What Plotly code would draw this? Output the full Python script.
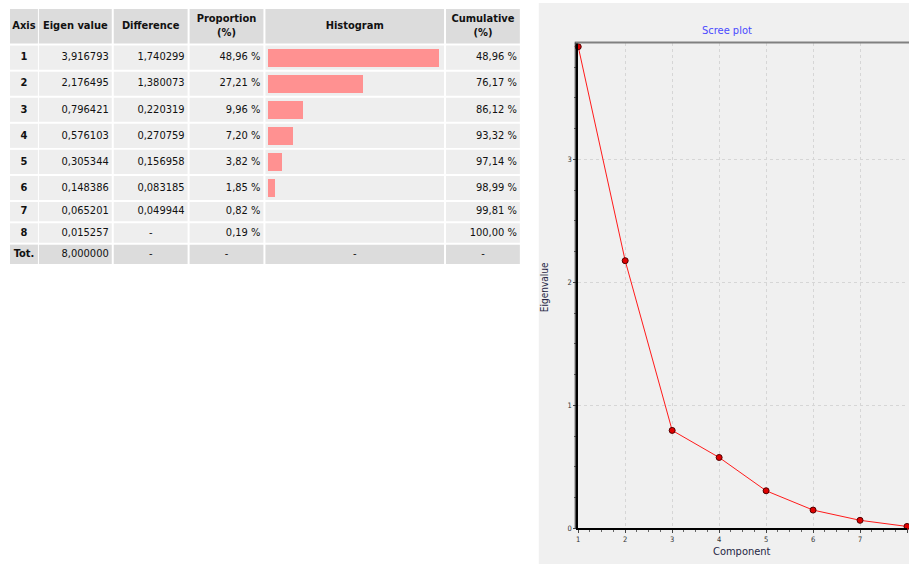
import plotly.graph_objects as go

# ---------------- data ----------------
axis_labels = ["1", "2", "3", "4", "5", "6", "7", "8"]
total_label = "Tot."
eigenvalues = [3.916793, 2.176495, 0.796421, 0.576103, 0.305344, 0.148386, 0.065201, 0.015257]
eigen_total = 8.000000
differences = [1.740299, 1.380073, 0.220319, 0.270759, 0.156958, 0.083185, 0.049944, None]
proportions = [48.96, 27.21, 9.96, 7.20, 3.82, 1.85, 0.82, 0.19]
cumulative = [48.96, 76.17, 86.12, 93.32, 97.14, 98.99, 99.81, 100.00]
components = [1, 2, 3, 4, 5, 6, 7, 8]
headers = ["Axis", "Eigen value", "Difference", "Proportion<br>(%)", "Histogram", "Cumulative<br>(%)"]
y_ticks = [0, 1, 2, 3]

# ---------------- layout constants ----------------
W, H = 909, 569
FONT = "DejaVu Sans Condensed, Liberation Sans, sans-serif"
col_left = [8, 37, 112, 188, 264, 445]
col_width = [28, 73, 74, 74, 179, 74]
header_top, header_h, gap = 9, 35, 2
bar_row_h, plain_row_h = 24.3, 19.5
HEAD_BG, ROW_BG = "#dcdcdc", "#eeeeee"
BAR_COLOR = "#ff9191"
px_per_pct = 3.49
TABLE_X = (0, 530)
TABLE_Y = (0, 280)


def px(xp):
    return xp / W


def py(yp):
    return 1 - yp / H


def fmt(v, d):
    return f"{v:.{d}f}".replace(".", ",")


# row geometry derived from whether a bar is displayed (prop >= 1 %)
has_bar = [p >= 1 for p in proportions] + [False]
row_tops, row_hs = [], []
y = header_top + header_h + gap
for hb in has_bar:
    h = bar_row_h if hb else plain_row_h
    row_tops.append(y)
    row_hs.append(h)
    y += h + gap
row_centers = [t + h / 2 for t, h in zip(row_tops, row_hs)]

shapes = []
for cl, cw in zip(col_left, col_width):
    shapes.append(dict(type="rect", xref="x2", yref="y2", x0=cl, x1=cl + cw,
                       y0=header_top, y1=header_top + header_h,
                       fillcolor=HEAD_BG, line_width=0, layer="below"))
n_rows = len(row_tops)
for i, (t, h) in enumerate(zip(row_tops, row_hs)):
    bg = HEAD_BG if i == n_rows - 1 else ROW_BG
    for cl, cw in zip(col_left, col_width):
        shapes.append(dict(type="rect", xref="x2", yref="y2", x0=cl, x1=cl + cw,
                           y0=t, y1=t + h, fillcolor=bg, line_width=0, layer="below"))

# scree panel background
shapes.append(dict(type="rect", xref="paper", yref="paper", x0=px(538), x1=1,
                   y0=0, y1=py(3), fillcolor="#f0f0f0", line_width=0, layer="below"))

fig = go.Figure()
txt_font = dict(family=FONT, size=11, color="#111111")


def text_trace(xs, ys, texts, pos):
    fig.add_trace(go.Scatter(x=xs, y=ys, text=texts, mode="text", textposition=pos,
                             textfont=txt_font, xaxis="x2", yaxis="y2",
                             hoverinfo="skip", showlegend=False, cliponaxis=False))


hc = [cl + cw / 2 for cl, cw in zip(col_left, col_width)]
text_trace(hc, [header_top + header_h / 2] * len(headers), [f"<b>{h}</b>" for h in headers], "middle center")
text_trace([hc[0]] * n_rows, row_centers, [f"<b>{a}</b>" for a in axis_labels + [total_label]], "middle center")


def right(ci):
    return col_left[ci] + col_width[ci] - 3


ev_txt = [fmt(v, 6) for v in eigenvalues] + [fmt(eigen_total, 6)]
text_trace([right(1)] * n_rows, row_centers, ev_txt, "middle left")

diff_num = [(fmt(d, 6), rc) for d, rc in zip(differences, row_centers) if d is not None]
text_trace([right(2)] * len(diff_num), [r for _, r in diff_num], [t for t, _ in diff_num], "middle left")
diff_dash = [rc for d, rc in zip(differences, row_centers) if d is None] + [row_centers[-1]]
text_trace([hc[2]] * len(diff_dash), diff_dash, ["-"] * len(diff_dash), "middle center")

text_trace([right(3)] * len(proportions), row_centers[:len(proportions)],
           [fmt(p, 2) + " %" for p in proportions], "middle left")
text_trace([right(5)] * len(cumulative), row_centers[:len(cumulative)],
           [fmt(c, 2) + " %" for c in cumulative], "middle left")
text_trace([hc[3], hc[4], hc[5]], [row_centers[-1]] * 3, ["-", "-", "-"], "middle center")

bar_idx = [i for i, p in enumerate(proportions) if p >= 1]
fig.add_trace(go.Bar(orientation="h", xaxis="x2", yaxis="y2",
                     x=[proportions[i] * px_per_pct for i in bar_idx],
                     y=[row_centers[i] for i in bar_idx],
                     base=col_left[4] + 3, width=18,
                     marker=dict(color=BAR_COLOR, line_width=0),
                     hoverinfo="skip", showlegend=False))

# scree plot
fig.add_trace(go.Scatter(x=components, y=eigenvalues, mode="lines+markers",
                         line=dict(color="#ff1a1a", width=1),
                         marker=dict(size=6, color="#e00000", line=dict(color="#500000", width=1)),
                         cliponaxis=False, showlegend=False, xaxis="x", yaxis="y"))

x0p, x1p = px(577.5), px(907)
y0p, y1p = py(533), py(43)
# top frame line and inner left double line
shapes.append(dict(type="line", xref="paper", yref="paper", x0=px(574), x1=1, y0=y1p, y1=y1p,
                   line=dict(color="#808080", width=2)))
shapes.append(dict(type="line", xref="paper", yref="paper", x0=px(574.5), x1=px(574.5),
                   y0=y0p, y1=y1p, line=dict(color="#202020", width=1)))

tick_font = dict(family=FONT, size=7.5, color="#333333")
common_axis = dict(showgrid=True, gridcolor="#d6d6d6", griddash="3px,3px", gridwidth=1, zeroline=False,
                   showline=True, linecolor="black", linewidth=2, ticks="outside", ticklen=3,
                   tickcolor="#444", tickfont=tick_font, fixedrange=True,
                   minor=dict(dtick=0.25, ticks="outside", ticklen=2, tickcolor="#666", showgrid=False))
fig.update_layout(
    width=W, height=H, margin=dict(l=0, r=0, t=0, b=0),
    paper_bgcolor="white", plot_bgcolor="rgba(0,0,0,0)",
    shapes=shapes, showlegend=False, bargap=0,
    xaxis=dict(domain=[x0p, x1p], range=[1, 8], tickvals=components,
               ticktext=[str(c) for c in components], anchor="y", **common_axis),
    yaxis=dict(domain=[y0p, y1p], range=[0, 3.95], tickvals=y_ticks,
               ticktext=[str(t) for t in y_ticks], anchor="x", **common_axis),
    xaxis2=dict(domain=[px(TABLE_X[0]), px(TABLE_X[1])], range=list(TABLE_X), visible=False,
                anchor="y2", fixedrange=True),
    yaxis2=dict(domain=[py(TABLE_Y[1]), py(TABLE_Y[0])], range=[TABLE_Y[1], TABLE_Y[0]],
                visible=False, anchor="x2", fixedrange=True),
    annotations=[
        dict(text="Scree plot", x=px(727), y=py(31), xref="paper", yref="paper", showarrow=False,
             font=dict(family=FONT, size=11, color="#4a4aff"), xanchor="center", yanchor="middle"),
        dict(text="Eigenvalue", x=px(544), y=py(290), xref="paper", yref="paper", showarrow=False,
             textangle=-90, font=dict(family=FONT, size=10, color="#262645"),
             xanchor="center", yanchor="middle"),
        dict(text="Component", x=px(742), y=py(556), xref="paper", yref="paper", showarrow=False,
             font=dict(family=FONT, size=11, color="#262645"), xanchor="center", yanchor="middle"),
    ],
)

fig.write_html("out.html", config={"displayModeBar": False},
               post_script="document.body.style.margin='0';document.body.style.overflow='hidden';")
